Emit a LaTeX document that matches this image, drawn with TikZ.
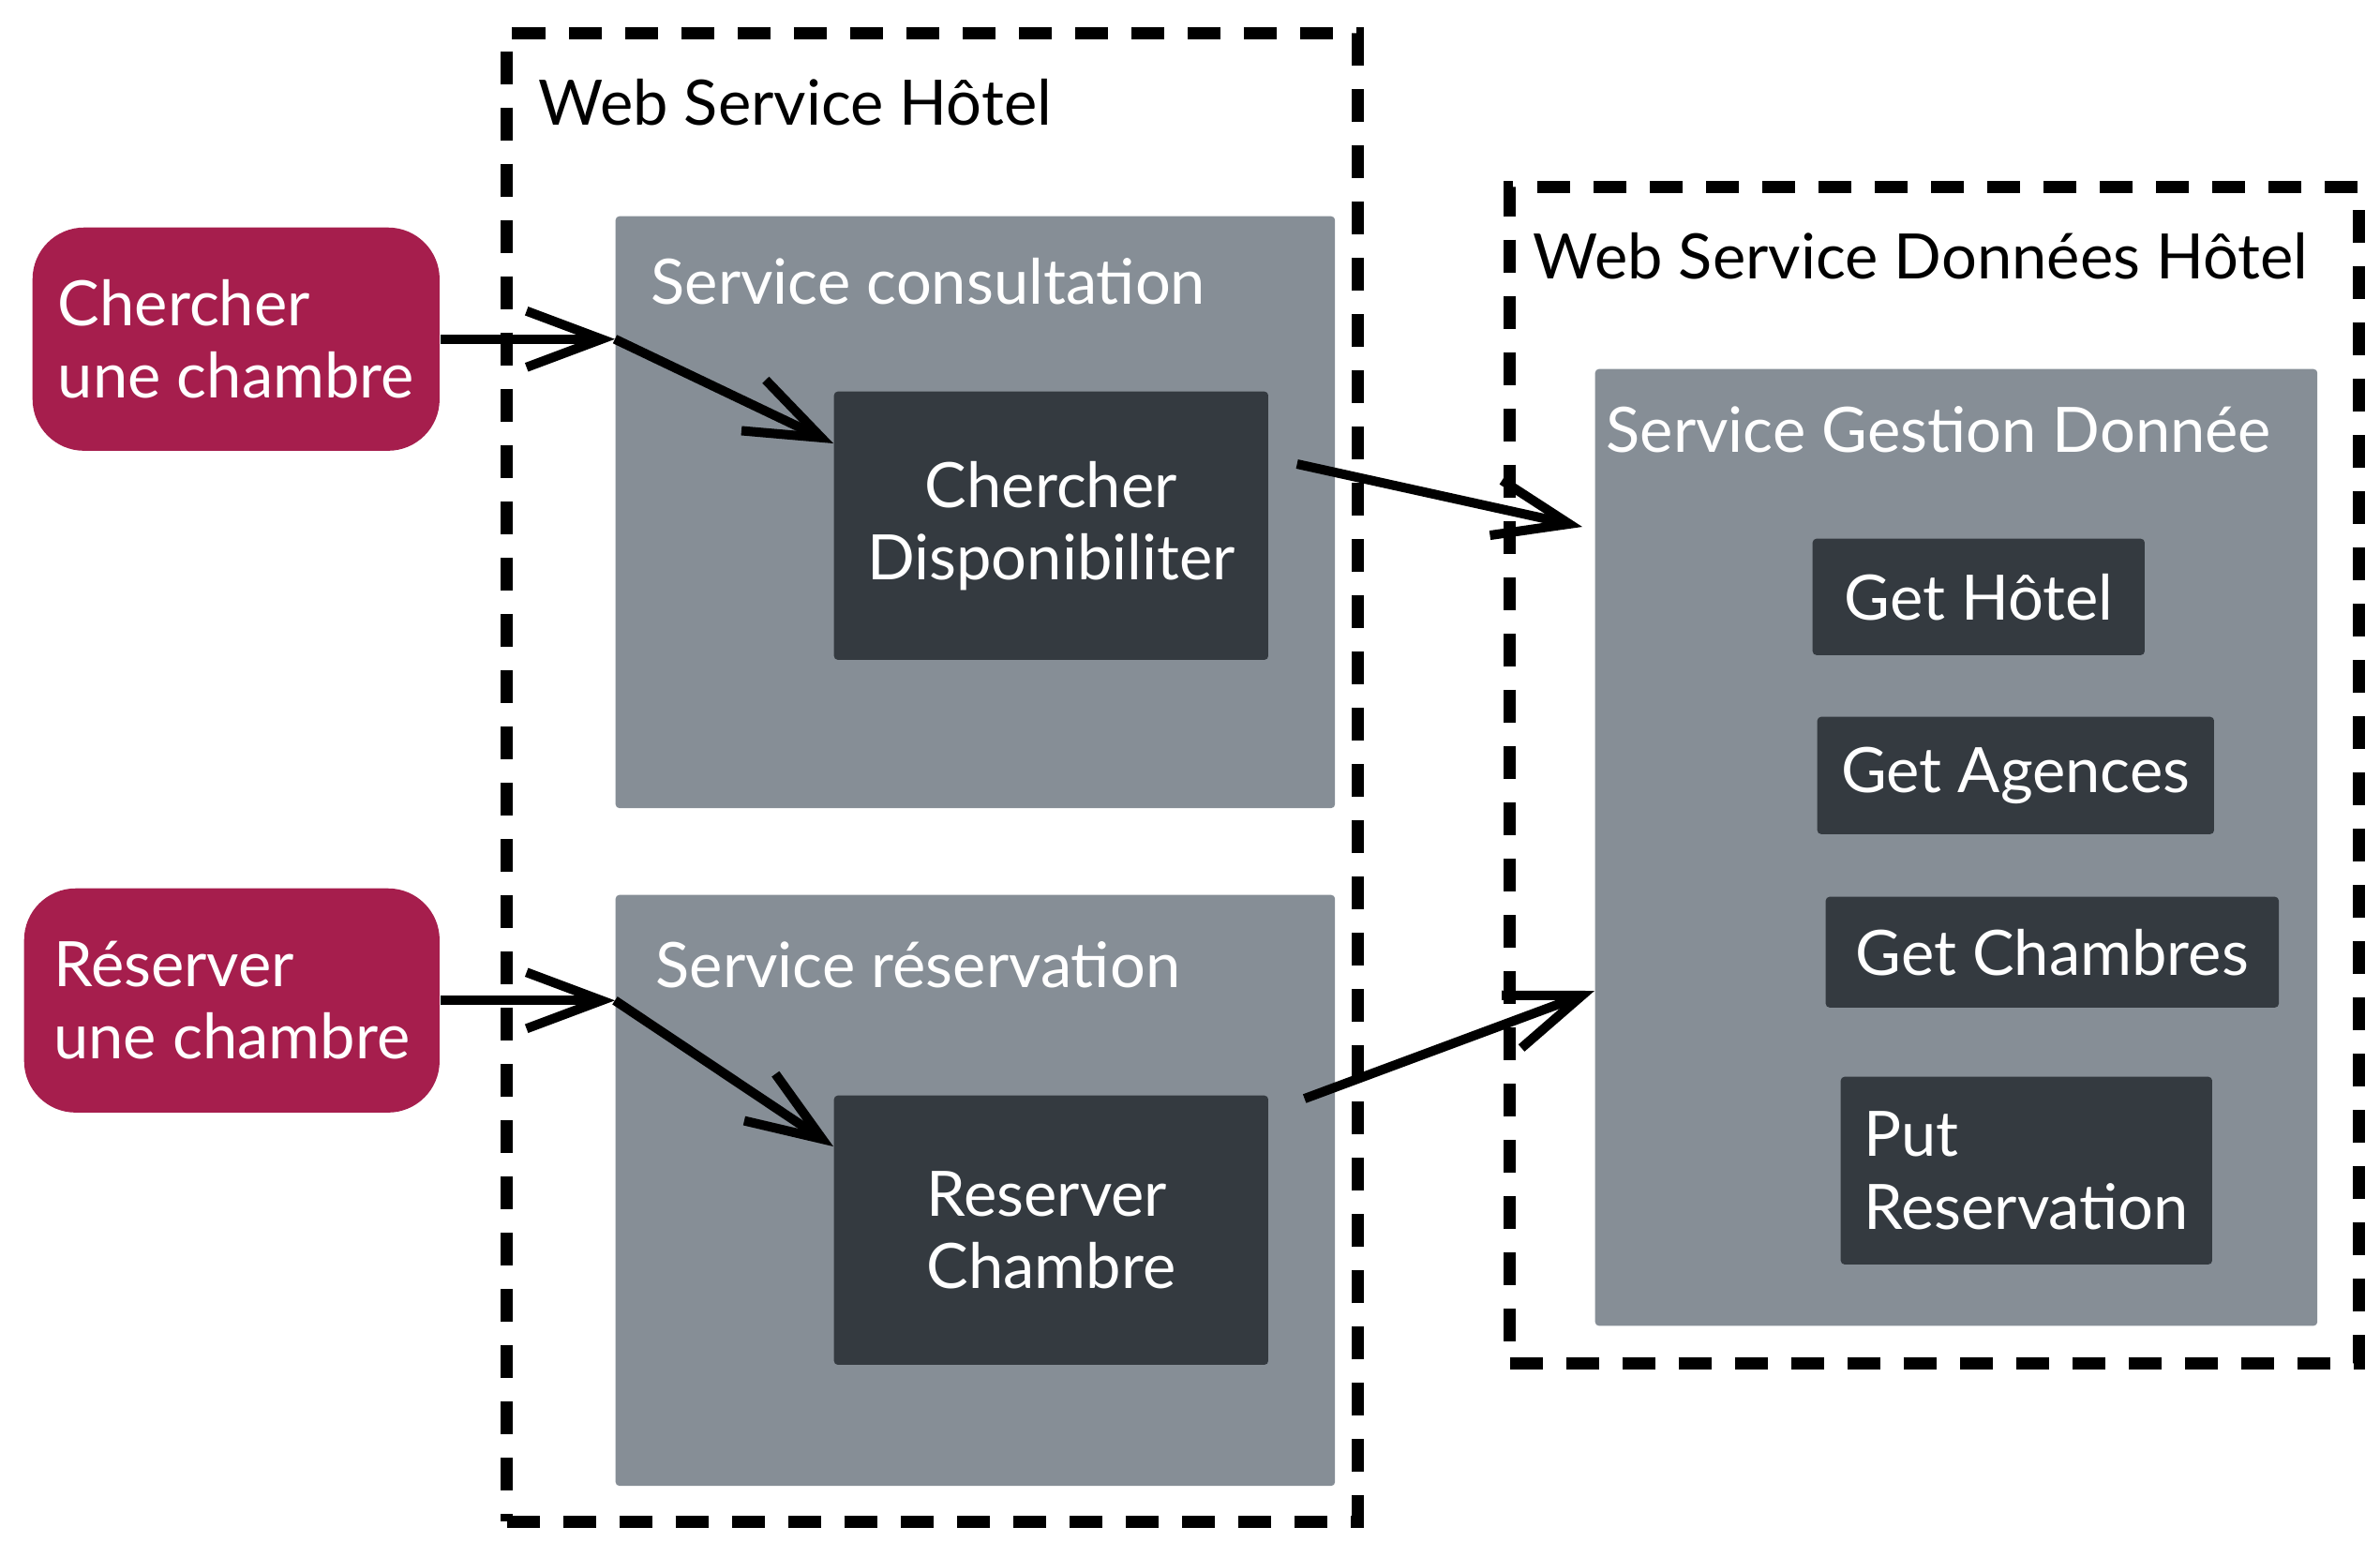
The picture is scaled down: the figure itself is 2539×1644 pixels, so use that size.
\documentclass[tikz,border=0pt]{standalone}
\usepackage{fontspec}
\setmainfont{Lato}
\usetikzlibrary{arrows.meta,calc}
\definecolor{crim}{HTML}{A61E4D}
\definecolor{gbox}{HTML}{868E96}
\definecolor{dbox}{HTML}{343A40}
\newcommand{\lblfont}{\fontsize{19}{22}\selectfont}
\begin{document}
\begin{tikzpicture}[x=0.01cm, y=-0.01cm,
  crimbox/.style={fill=crim, draw=none, rounded corners=0.55cm, inner sep=0, text=white, align=left, font=\lblfont, anchor=north west},
  graybox/.style={fill=gbox, draw=none, rounded corners=0.04cm, inner sep=0, anchor=north west},
  darkbox/.style={fill=dbox, draw=none, rounded corners=0.04cm, inner sep=0, text=white, font=\lblfont, anchor=north west},
  dashbox/.style={draw=black, line width=0.13cm, dash pattern=on 0.35cm off 0.25cm, inner sep=0, anchor=north west},
  title/.style={anchor=base west, inner sep=0, font=\lblfont},
  arr/.style={draw=black, line width=0.1cm, line cap=butt, line join=miter, -{Straight Barb[length=0.8cm, width=0.6cm]}}
]
\useasboundingbox (0,0) rectangle (2539,1644);

% containers
\node[dashbox, minimum width=9.07cm, minimum height=15.87cm] (ws1) at (534,29) {};
\node[dashbox, minimum width=9.05cm, minimum height=12.54cm] (ws2) at (1604,193) {};
\node[title] (t1) at (574,133) {Web Service Hôtel};
\node[title] (t2) at (1635,297) {Web Service Données Hôtel};

% left actors
\node[crimbox, minimum width=4.34cm, minimum height=2.38cm] (c1) at (34,242) {Chercher\\une chambre};
\node[crimbox, minimum width=4.43cm, minimum height=2.39cm] (c2) at (25,947) {Réserver\\une chambre};

% service consultation
\node[graybox, minimum width=7.67cm, minimum height=6.31cm] (gc) at (656,230) {};
\node[title, text=white] (tgc) at (694,324) {Service consultation};
\node[darkbox, align=center, minimum width=4.63cm, minimum height=2.86cm] (cd) at (889,417) {Chercher\\Disponibiliter};

% service reservation
\node[graybox, minimum width=7.67cm, minimum height=6.30cm] (gr) at (656,954) {};
\node[title, text=white] (tgr) at (699,1053) {Service réservation};
\node[darkbox, align=left, minimum width=4.63cm, minimum height=2.87cm] (cr) at (889,1168) {Reserver\\Chambre};

% service gestion donnee
\node[graybox, minimum width=7.70cm, minimum height=10.20cm] (gd) at (1701,393) {};
\node[title, text=white] (tgd) at (1713,482) {Service Gestion Donnée};
\node[darkbox, minimum width=3.54cm, minimum height=1.24cm] (h1) at (1933,574) {Get Hôtel};
\node[darkbox, minimum width=4.23cm, minimum height=1.25cm] (h2) at (1938,764) {Get Agences};
\node[darkbox, minimum width=4.83cm, minimum height=1.18cm] (h3) at (1947,956) {Get Chambres};
\node[darkbox, align=left, minimum width=3.96cm, minimum height=2.00cm] (h4) at (1963,1148) {Put\\Reservation};

% connectors
\coordinate (j1) at (c1.east -| gc.west);
\coordinate (j2) at (c2.east -| gr.west);
\draw[arr] (c1.east) -- (j1);
\draw[arr] (j1) -- ($(cd.north west)+(0,56)$);
\draw[arr] (c2.east) -- (j2);
\draw[arr] (j2) -- ($(cr.north west)+(0,55)$);
\draw[arr] ($(cd.north east)+(30,78)$) -- ($(gd.north west)+(-13,169)$);
\draw[arr] ($(cr.north east)+(38,4)$) -- ($(gd.north west)+(0,664)$);
\end{tikzpicture}
\end{document}
